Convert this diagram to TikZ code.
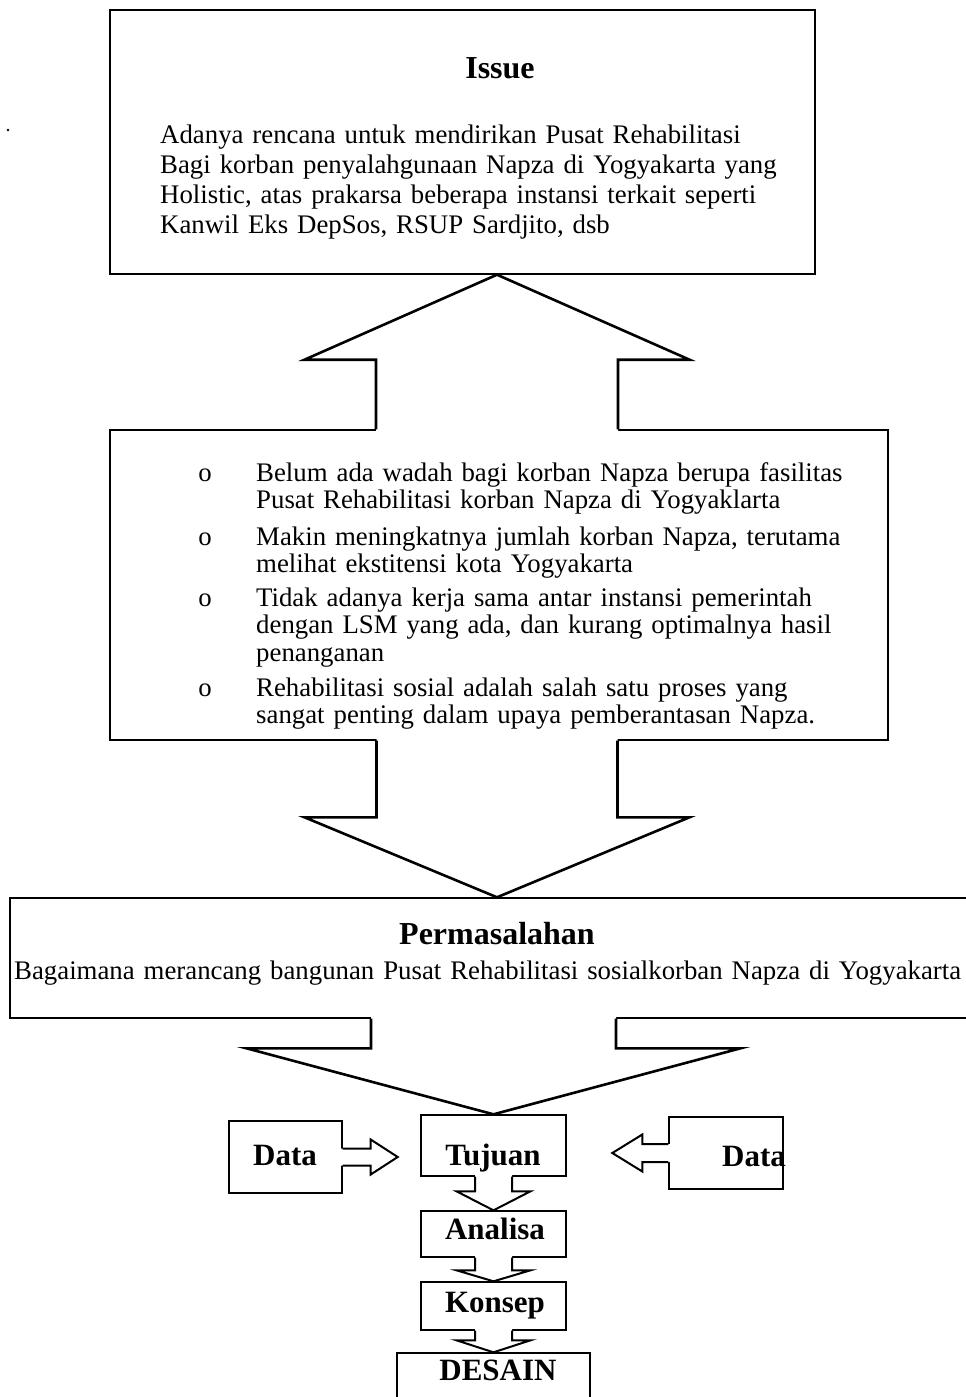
\documentclass[tikz,border=0pt]{standalone}
\usepackage{fontspec}
\setmainfont{Liberation Serif}
\usetikzlibrary{calc}

% open block arrow: [style] tail, tip, shaft half width, head half width, head length
\newcommand{\blockarrow}[6][]{%
  \coordinate (ba-t) at (#2);
  \coordinate (ba-p) at (#3);
  \coordinate (ba-h) at ($(ba-p)!#6!(ba-t)$);
  \coordinate (ba-e) at ($(ba-t)!-2pt!(ba-p)$);
  \fill[white] ($(ba-e)!#4!90:(ba-p)$) -- ($(ba-h)!#4!90:(ba-p)$) -- ($(ba-h)!#5!90:(ba-p)$) -- (ba-p)
    -- ($(ba-h)!#5!-90:(ba-p)$) -- ($(ba-h)!#4!-90:(ba-p)$) -- ($(ba-e)!#4!-90:(ba-p)$) -- cycle;
  \draw[blockline,#1] ($(ba-t)!#4!90:(ba-p)$) -- ($(ba-h)!#4!90:(ba-p)$) -- ($(ba-h)!#5!90:(ba-p)$) -- (ba-p)
    -- ($(ba-h)!#5!-90:(ba-p)$) -- ($(ba-h)!#4!-90:(ba-p)$) -- ($(ba-t)!#4!-90:(ba-p)$);
}

\begin{document}
\begin{tikzpicture}[x=1pt, y=-1pt,
  kotak/.style={draw, line width=1.4pt, inner sep=0pt},
  judul/.style={font=\bfseries\fontsize{32}{36}\selectfont, inner sep=0pt, anchor=base},
  label/.style={font=\bfseries\fontsize{31}{34}\selectfont, inner sep=0pt, anchor=base},
  isi/.style={font=\fontsize{26.8}{30}\selectfont, inner sep=0pt, anchor=base west, align=left, text width=#1},
  isi/.default=660pt,
  butir/.style={font=\fontsize{26.8}{27.5}\selectfont, inner sep=0pt, anchor=base west, align=left, text width=620pt},
  bulat/.style={font=\fontsize{26.8}{30}\selectfont, inner sep=0pt, anchor=base},
  blockline/.style={line width=2pt}]

\fill[white] (0,0) rectangle (966,1397);
\useasboundingbox (0,0) rectangle (966,1397);
\fill (8,130) circle (1.3);

% === BOXES ===
\node[kotak, minimum width=705pt, minimum height=264pt] (issue) at (462.5,142) {};
\node[kotak, minimum width=778pt, minimum height=310pt] (latar) at (499,585) {};
\node[kotak, minimum width=980pt, minimum height=120pt] (masalah) at (500,958) {};
\node[kotak, minimum width=145pt, minimum height=61pt] (tujuan) at (493.5,1145.5) {};
\node[kotak, minimum width=113pt, minimum height=72pt] (dataL) at (285.5,1157) {};
\node[kotak, minimum width=114pt, minimum height=72pt] (dataR) at (726,1153) {};
\node[kotak, minimum width=145pt, minimum height=46pt] (analisa) at (493.5,1234) {};
\node[kotak, minimum width=145pt, minimum height=48pt] (konsep) at (493.5,1306) {};
\node[kotak, minimum width=193pt, minimum height=67pt] (desain) at (493.5,1386.5) {};

\node[judul] (latarjudul) at (497,418) {Latar belakang};

% === BLOCK ARROWS ===
\blockarrow[line width=2.6pt]{latarjudul.base |- latar.north}{latarjudul.base |- issue.south}{121pt}{192.5pt}{85pt}
\blockarrow[line width=2.6pt]{latarjudul.base |- latar.south}{latarjudul.base |- masalah.north}{120.5pt}{192.5pt}{80pt}
\blockarrow[line width=2.6pt]{tujuan.north |- masalah.south}{tujuan.north}{122.5pt}{247pt}{66pt}

\coordinate (ujungL) at ($(dataL.east)+(55,0)$);
\coordinate (ujungR) at ($(dataR.west)+(-56,0)$);
\blockarrow{dataL.east}{ujungL}{8.5pt}{17.5pt}{27pt}
\blockarrow{dataR.west}{ujungR}{9pt}{18.5pt}{30pt}

\blockarrow{tujuan.south}{analisa.north}{18.5pt}{37pt}{19pt}
\blockarrow{analisa.south}{konsep.north}{18.5pt}{37pt}{11pt}
\blockarrow{konsep.south}{desain.north}{18.5pt}{37pt}{12pt}

% === TEXT ===
\node[judul] (issuejudul) at (500,78.5) {Issue};
\node[isi] (issueisi) at (160,143) {Adanya rencana untuk mendirikan Pusat Rehabilitasi\\
  Bagi korban penyalahgunaan Napza di Yogyakarta yang\\
  Holistic, atas prakarsa beberapa instansi terkait seperti\\
  Kanwil Eks DepSos, RSUP Sardjito, dsb};

\foreach \yb [count=\i] in {481,545,606,696}
  \node[bulat] (o\i) at (205,\yb) {o};
\node[butir] (lb1) at (256,481) {Belum ada wadah bagi korban Napza berupa fasilitas\\
  Pusat Rehabilitasi korban Napza di Yogyaklarta};
\node[butir] (lb2) at (256,545) {Makin meningkatnya jumlah korban Napza, terutama\\
  melihat ekstitensi kota Yogyakarta};
\node[butir] (lb3) at (256,606) {Tidak adanya kerja sama antar instansi pemerintah\\
  dengan LSM yang ada, dan kurang optimalnya hasil\\
  penanganan};
\node[butir] (lb4) at (256,696) {Rehabilitasi sosial adalah salah satu proses yang\\
  sangat penting dalam upaya pemberantasan Napza.};

\node[judul] (masalahjudul) at (497,944) {Permasalahan};
\node[isi=950pt] (masalahisi) at (14,979) {Bagaimana merancang bangunan Pusat Rehabilitasi sosialkorban Napza di Yogyakarta};

\node[label] (tujuanteks) at (493,1165) {Tujuan};
\node[label] (dataLteks) at (285,1165) {Data};
\node[label] (dataRteks) at (754,1166) {Data};
\node[label] (analisateks) at (495,1239) {Analisa};
\node[label] (konsepteks) at (495,1312) {Konsep};
\node[label] (desainteks) at (498,1380) {DESAIN};

\end{tikzpicture}
\end{document}
